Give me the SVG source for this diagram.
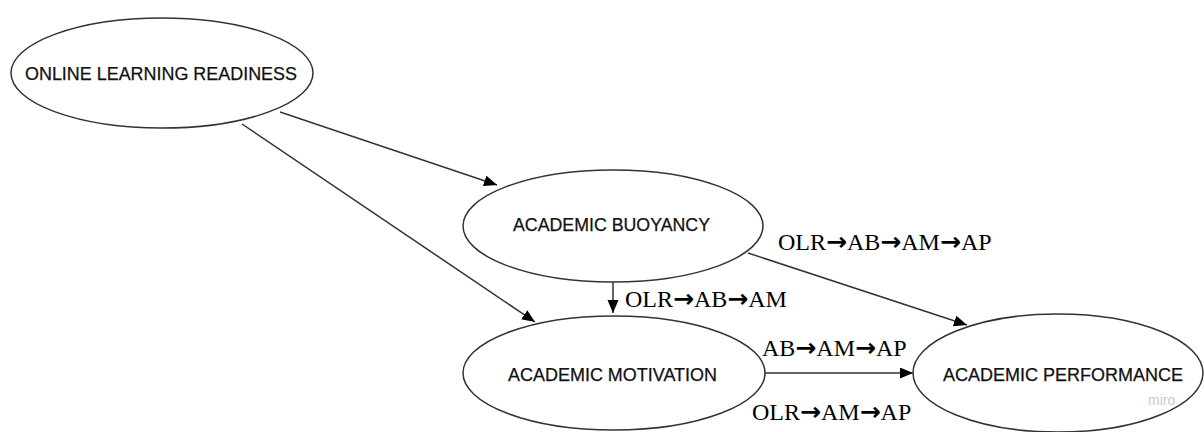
<svg xmlns="http://www.w3.org/2000/svg" width="1204" height="432" viewBox="0 0 1204 432">
<style>
.node{fill:#fff;stroke:#333;stroke-width:1.5}
.nt{font-family:"Liberation Sans",Arial,sans-serif;font-size:18px;fill:#111;stroke:#111;stroke-width:0.25;text-anchor:middle}
.edge{stroke:#333;stroke-width:1.5;fill:none;marker-end:url(#arr)}
.lbl{font-family:"Liberation Serif","DejaVu Serif",serif;font-size:24px;fill:#000}
.ar{font-family:"DejaVu Sans",sans-serif;font-weight:bold;font-size:25px}
</style>
<defs>
<marker id="arr" markerUnits="userSpaceOnUse" markerWidth="14" markerHeight="12" refX="13" refY="5.5" orient="auto">
<path d="M0,0 L13,5.5 L0,11 z" fill="#000"/>
</marker>
</defs>
<rect width="1204" height="432" fill="#fff"/>
<g id="connectors">
<line class="edge" x1="280" y1="112" x2="497" y2="185"/>
<line class="edge" x1="242" y1="124" x2="535" y2="322"/>
<line class="edge" x1="613" y1="282" x2="613" y2="313"/>
<line class="edge" x1="748" y1="253" x2="967" y2="325"/>
<line class="edge" x1="765" y1="373" x2="913" y2="373"/>
</g>
<g id="node-olr">
<ellipse class="node" cx="162" cy="73" rx="151" ry="55"/>
<text class="nt" x="161" y="80" textLength="272" lengthAdjust="spacingAndGlyphs">ONLINE LEARNING READINESS</text>
</g>
<g id="node-ab">
<ellipse class="node" cx="613" cy="226" rx="150" ry="56"/>
<text class="nt" x="611.5" y="231" textLength="197" lengthAdjust="spacingAndGlyphs">ACADEMIC BUOYANCY</text>
</g>
<g id="node-am">
<ellipse class="node" cx="614" cy="373" rx="151" ry="57"/>
<text class="nt" x="612.5" y="381" textLength="209" lengthAdjust="spacingAndGlyphs">ACADEMIC MOTIVATION</text>
</g>
<g id="node-ap">
<ellipse class="node" cx="1058" cy="373" rx="145" ry="59"/>
<text class="nt" x="1063" y="381" textLength="240" lengthAdjust="spacingAndGlyphs">ACADEMIC PERFORMANCE</text>
<text x="1148" y="405" font-family="'Liberation Sans',Arial,sans-serif" font-size="14" fill="#c9c7d9">miro</text>
</g>
<g id="labels">
<text class="lbl" x="778" y="250">OLR<tspan class="ar">→</tspan>AB<tspan class="ar">→</tspan>AM<tspan class="ar">→</tspan>AP</text>
<text class="lbl" x="625" y="307">OLR<tspan class="ar">→</tspan>AB<tspan class="ar">→</tspan>AM</text>
<text class="lbl" x="762" y="356">AB<tspan class="ar">→</tspan>AM<tspan class="ar">→</tspan>AP</text>
<text class="lbl" x="752" y="420">OLR<tspan class="ar">→</tspan>AM<tspan class="ar">→</tspan>AP</text>
</g>
</svg>
